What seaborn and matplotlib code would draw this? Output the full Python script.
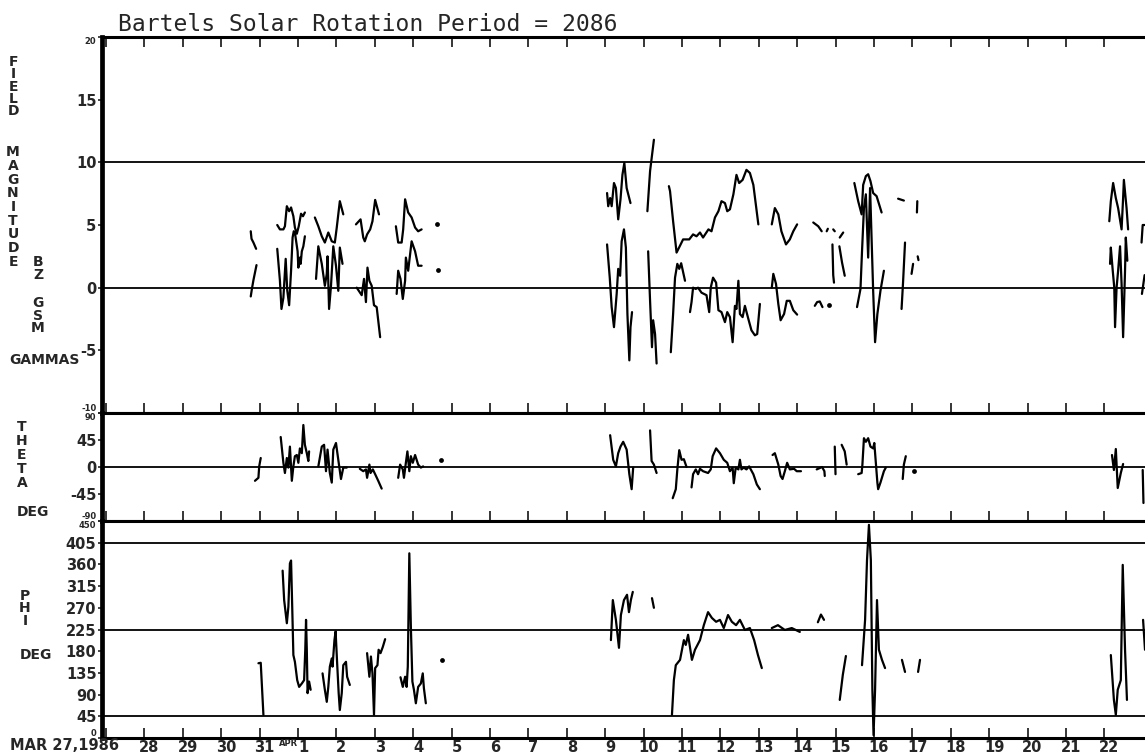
import numpy as np
import pandas as pd
import matplotlib
matplotlib.use("Agg")
import matplotlib.pyplot as plt
import matplotlib.transforms as mtransforms
import seaborn as sns

sns.set_style("white")
plt.rcParams['font.family'] = ['DejaVu Sans']

nan = np.nan

# ---------------- data (day since MAR 27 1986, value) ; nan separates gaps ----------------
bmag_day = [3.77, 3.79, 3.84, 3.91, nan,
            4.46, 4.53, 4.62, 4.66, 4.71, 4.77, 4.82, 4.88, 4.92, 4.97, 5.02, 5.08, 5.13, 5.18, nan,
            5.44, 5.53, 5.62, 5.70, 5.79, 5.88, 5.96, 6.01, 6.09, 6.18, nan,
            6.51, 6.63, 6.70, 6.74, 6.80, 6.88, 6.94, 7.01, 7.11, nan,
            7.55, 7.61, 7.70, 7.74, 7.79, 7.87, 7.96, 8.05, 8.13, 8.22, nan,
            13.05, 13.08, 13.13, 13.17, 13.23, 13.28, 13.34, 13.40, 13.45, 13.50, 13.56, 13.66, nan,
            14.10, 14.17, 14.27, nan,
            14.66, 14.69, 14.77, 14.86, 14.95, 15.03, 15.19, 15.29, 15.38, 15.47, 15.55, 15.69, 15.77,
            15.86, 15.95, 16.03, 16.12, 16.18, 16.25, 16.34, 16.42, 16.49, 16.58, 16.68, 16.77, 16.86, 16.99, nan,
            17.34, 17.42, 17.51, 17.59, 17.71, 17.81, 17.90, 18.00, nan,
            18.42, 18.55, 18.64, nan,
            18.77, 18.80, nan,
            18.94, 18.98, nan,
            19.11, 19.20, nan,
            19.49, 19.59, 19.68, 19.72, 19.79, 19.85, 19.91, 19.98, 20.07, 20.20, nan,
            20.63, 20.78, nan,
            21.12, 21.13, nan,
            26.13, 26.17, 26.23, 26.30, 26.36, 26.45, 26.49, 26.51, 26.58, 26.62, nan,
            26.97, 27.00, 27.05]
bmag_val = [4.5, 3.9, 3.6, 3.1, nan,
            5.0, 4.65, 4.65, 4.9, 6.5, 6.1, 6.4, 5.7, 4.8, 4.3, 4.9, 5.9, 5.7, 6.0, nan,
            5.6, 4.9, 4.1, 3.6, 4.4, 3.7, 3.6, 4.8, 6.9, 5.85, nan,
            5.05, 5.45, 4.0, 3.7, 4.25, 4.65, 5.3, 7.0, 5.85, nan,
            4.9, 3.6, 3.6, 4.65, 7.05, 6.0, 5.6, 4.8, 4.5, 4.65, nan,
            7.55, 6.5, 7.15, 6.5, 8.35, 7.95, 5.45, 7.05, 9.0, 9.95, 7.95, 6.75, nan,
            6.1, 9.3, 11.8, nan,
            8.1, 7.7, 5.3, 2.8, 3.35, 3.85, 3.85, 4.25, 4.1, 4.4, 4.0, 4.65, 4.5,
            5.6, 6.1, 6.9, 6.75, 6.1, 6.25, 7.45, 9.0, 8.35, 8.6, 9.4, 9.15, 8.2, 5.05, nan,
            5.05, 6.35, 5.85, 4.5, 3.45, 3.85, 4.5, 5.05, nan,
            5.2, 4.9, 4.5, nan,
            4.5, 4.7, nan,
            4.65, 4.5, nan,
            4.0, 4.4, nan,
            8.35, 6.9, 5.85, 8.2, 8.9, 9.05, 8.5, 7.55, 7.3, 6.0, nan,
            7.1, 6.95, nan,
            6.0, 6.9, nan,
            5.3, 6.9, 8.35, 7.15, 6.35, 4.65, 7.15, 8.6, 6.35, 4.65, nan,
            3.6, 5.0, 5.0]
bmag_dot_day = [8.63]
bmag_dot_val = [5.05]

bz_day = [3.77, 3.80, 3.84, 3.92, nan,
          4.46, 4.53, 4.57, 4.62, 4.68, 4.72, 4.77, 4.82, 4.86, 4.89, 4.92, 4.99, 5.01, 5.05, 5.07, 5.10, 5.14, 5.18, nan,
          5.47, 5.53, 5.62, 5.70, 5.75, 5.77, 5.81, 5.86, 5.92, 5.99, 6.05, 6.09, 6.16, nan,
          6.53, 6.66, 6.72, 6.77, 6.81, 6.86, 6.92, 6.98, 7.05, 7.14, nan,
          7.57, 7.61, 7.67, 7.73, 7.79, 7.81, 7.87, 7.96, 8.05, 8.13, 8.22, nan,
          13.05, 13.12, 13.17, 13.23, 13.30, 13.34, 13.39, 13.43, 13.49, 13.54, 13.58, 13.63, 13.66, 13.70, nan,
          14.12, 14.17, 14.22, 14.25, 14.30, 14.34, nan,
          14.71, 14.77, 14.82, 14.88, 14.93, 14.98, 15.08, nan,
          15.21, 15.25, 15.29, 15.36, 15.42, 15.51, 15.64, 15.71, 15.75, 15.81, 15.89, 15.95, 16.03, 16.12,
          16.18, 16.25, 16.32, 16.38, 16.42, 16.47, 16.51, 16.58, 16.64, 16.73, 16.81, 16.90, 16.96, 17.03, nan,
          17.34, 17.38, 17.45, 17.51, 17.57, 17.66, 17.73, 17.81, 17.90, 18.00, nan,
          18.46, 18.52, 18.59, 18.66, nan,
          18.92, 18.94, 18.96, nan,
          19.10, 19.17, 19.24, nan,
          19.56, 19.65, 19.69, 19.74, 19.79, 19.85, 19.90, 19.98, 20.03, 20.09, 20.17, 20.26, nan,
          20.72, 20.76, 20.81, nan,
          20.98, 21.02, nan,
          21.14, 21.16, nan,
          26.15, 26.17, 26.22, 26.26, 26.28, 26.32, 26.36, 26.41, 26.45, 26.49, 26.54, 26.56, 26.60, nan,
          26.98, 27.05]
bz_val = [-0.7, -0.1, 0.6, 1.8, nan,
          3.1, 0.55, -1.7, -0.8, 2.3, -0.2, -1.4, 1.35, 4.0, 4.5, 4.4, 2.9, 1.6, 2.4, 1.9, 2.9, 3.3, 4.1, nan,
          0.7, 3.3, 1.9, 0.15, 1.1, 2.5, -1.7, 0.15, 3.3, 1.75, -0.25, 3.2, 1.9, nan,
          0.0, -0.6, 0.7, -1.15, 1.6, 0.55, 0.15, -1.4, -1.55, -3.95, nan,
          -0.5, 1.35, 0.7, -0.9, 0.55, 2.4, 1.35, 3.7, 2.9, 1.75, 1.75, nan,
          3.45, 0.8, -1.55, -3.15, -0.5, 1.5, 0.95, 3.7, 4.65, 3.2, -2.1, -5.8, -3.15, -1.95, nan,
          2.9, -1.05, -4.75, -2.6, -3.7, -6.05, nan,
          -5.15, -2.1, 0.8, 1.9, 1.5, 1.95, 0.55, nan,
          -1.95, -1.15, 0.0, -0.1, 0.0, -0.4, -0.6, -1.95, 0.0, 0.8, 0.4, -1.8, -1.95, -2.75,
          -1.95, -2.35, -4.35, -1.45, -1.7, 0.55, -2.1, -2.35, -1.45, -2.5, -3.4, -3.8, -3.7, -1.3, nan,
          0.0, 1.1, 0.3, -1.3, -2.6, -2.1, -1.05, -1.05, -1.8, -2.15, nan,
          -1.45, -1.15, -1.1, -1.55, nan,
          3.45, 1.0, 0.4, nan,
          3.3, 2.0, 0.95, nan,
          -1.55, -0.1, 2.9, 6.35, 7.45, 2.4, 7.95, -0.25, -4.35, -2.1, -0.25, 1.35, nan,
          -1.7, 0.5, 3.6, nan,
          1.1, 1.9, nan,
          2.5, 2.2, nan,
          1.9, 3.2, 1.35, 0.0, -3.15, 0.0, 1.35, 3.3, 0.3, -3.95, 1.35, 4.0, 2.15, nan,
          -0.5, 1.0]
bz_dot_day = [8.65, 18.84]
bz_dot_val = [1.4, -1.4]

theta_day = [3.88, 3.97, 3.99, 4.03, nan,
             4.55, 4.62, 4.66, 4.71, 4.75, 4.79, 4.84, 4.88, 4.92, 4.97, 5.01, 5.05, 5.10, 5.14, 5.18, 5.23, 5.27, 5.29, nan,
             5.53, 5.62, 5.68, 5.73, 5.77, 5.83, 5.88, 5.92, 5.99, 6.05, 6.12, 6.18, 6.27, nan,
             6.61, 6.70, 6.77, 6.80, 6.86, 6.89, 6.95, 7.01, 7.09, 7.18, nan,
             7.61, 7.66, 7.73, 7.76, 7.81, 7.85, 7.90, 7.94, 7.99, 8.05, 8.13, 8.20, 8.26, nan,
             13.13, 13.21, 13.28, 13.34, 13.40, 13.47, 13.56, 13.63, 13.69, 13.73, nan,
             14.17, 14.21, 14.27, 14.34, nan,
             14.76, 14.84, 14.88, 14.93, 14.99, 15.05, 15.12, nan,
             15.25, 15.29, 15.36, 15.42, 15.47, 15.55, 15.68, 15.75, 15.80, 15.89, 15.99, 16.09, 16.18,
             16.25, 16.32, 16.35, 16.40, 16.47, 16.51, 16.55, 16.61, 16.68, 16.75, 16.86, 16.95, 17.03, nan,
             17.36, 17.42, 17.51, 17.57, 17.62, 17.68, 17.74, 17.81, 17.92, 17.99, 18.10, nan,
             18.51, 18.58, 18.65, 18.71, 18.72, nan,
             18.98, 19.00, nan,
             19.16, 19.24, 19.29, nan,
             19.59, 19.68, 19.70, 19.74, 19.79, 19.85, 19.91, 19.98, 20.01, 20.05, 20.09, 20.11, 20.17, 20.26, 20.31, nan,
             20.75, 20.78, 20.83, nan,
             26.20, 26.25, 26.30, 26.35, 26.43, 26.49, nan,
             27.00, 27.02]
theta_val = [-23, -18, 1, 15, nan,
             50, 7, -10, 15, -1, 34, -23, 1, 18, 20, 7, 31, 23, 70, 37, 23, 10, 26, nan,
             1, 34, 37, -7, 29, -10, -26, 29, 40, 12, -20, -1, -1, nan,
             -3, -7, -4, -18, 4, -10, -4, -12, -23, -36, nan,
             -18, 4, -4, -18, 7, 26, -7, 18, 7, 20, 4, -1, 1, nan,
             53, 12, 1, 23, 34, 42, 29, -12, -37, -1, nan,
             61, 10, 4, -10, nan,
             -52, -37, -4, 28, 12, 13, 0, nan,
             -34, -12, -4, -12, -3, -7, -10, -4, 18, 31, 23, 12, 7,
             -7, -1, -27, -1, -4, 12, -4, -1, -4, 1, -12, -29, -37, nan,
             20, 23, 4, -15, -20, -7, 7, -4, -3, -7, -7, nan,
             -4, -2, 0, -7, -15, nan,
             34, -12, nan,
             37, 26, 4, nan,
             -12, -10, 4, 48, 42, 48, 34, 31, 40, 7, -26, -37, -26, -7, -1, nan,
             -20, 4, 18, nan,
             20, -5, 30, -35, -10, 5, nan,
             -5, -60]
theta_dot_day = [8.72, 21.04]
theta_dot_val = [12, -7]

phi_day = [3.97, 4.03, 4.10, nan,
           4.60, 4.64, 4.71, 4.75, 4.79, 4.82, 4.85, 4.88, 4.92, 4.98, 5.03, 5.10, 5.16, 5.19, 5.21, 5.23, 5.25, 5.29, 5.33, nan,
           5.64, 5.70, 5.75, 5.79, 5.83, 5.88, 5.90, 5.95, 5.98, 6.02, 6.06, 6.09, 6.14, 6.18, 6.25, 6.28, 6.35, nan,
           6.80, 6.86, 6.90, 6.94, 6.98, 7.01, 7.07, 7.10, 7.15, 7.21, 7.27, nan,
           7.67, 7.73, 7.79, 7.83, 7.86, 7.90, 7.94, 7.98, 8.02, 8.07, 8.13, 8.20, 8.25, 8.28, 8.33, nan,
           13.15, 13.20, 13.28, 13.36, 13.41, 13.49, 13.57, 13.62, 13.67, 13.72, nan,
           14.22, 14.27, nan,
           14.74, 14.79, 14.84, 14.95, 15.05, 15.10, 15.16, 15.26, 15.34, 15.47, 15.57, 15.68, 15.78,
           15.89, 15.99, 16.09, 16.20, 16.30, 16.41, 16.51, 16.64, 16.77, 16.88, 16.98, 17.08, nan,
           17.34, 17.50, 17.68, 17.86, 18.07, nan,
           18.54, 18.62, 18.70, nan,
           19.11, 19.19, 19.27, nan,
           19.69, 19.77, 19.82, 19.87, 19.92, 19.96, 19.99, 20.03, 20.08, 20.13, 20.21, 20.29, nan,
           20.73, 20.81, nan,
           21.15, 21.20, nan,
           26.17, 26.25, 26.30, 26.35, 26.43, 26.48, 26.54, 26.59, nan,
           27.01, 27.06]
phi_val = [155, 156, 48, nan,
           347, 286, 238, 272, 362, 368, 272, 172, 158, 120, 106, 113, 120, 183, 245, 183, 93, 117, 100, nan,
           134, 100, 75, 106, 148, 165, 148, 203, 221, 155, 93, 58, 93, 151, 158, 127, 110, nan,
           176, 127, 169, 134, 48, 145, 151, 183, 176, 189, 205, nan,
           126, 106, 127, 106, 148, 383, 231, 117, 100, 72, 106, 113, 134, 103, 72, nan,
           203, 286, 245, 187, 255, 286, 297, 261, 286, 303, nan,
           290, 270, nan,
           48, 120, 151, 162, 203, 193, 214, 162, 183, 203, 234, 261, 249,
           241, 245, 228, 255, 241, 234, 245, 224, 228, 203, 172, 145, nan,
           228, 234, 224, 228, 220, nan,
           240, 256, 245, nan,
           79, 131, 170, nan,
           151, 245, 369, 442, 369, 100, 6, 100, 286, 183, 162, 145, nan,
           162, 137, nan,
           137, 162, nan,
           172, 79, 48, 100, 120, 359, 183, 79, nan,
           245, 183]
phi_dot_day = [8.76]
phi_dot_val = [162]

day_ticks = list(range(27))
day_labels = ["", "28", "29", "30", "31", "1", "2", "3", "4", "5", "6", "7", "8", "9", "10",
              "11", "12", "13", "14", "15", "16", "17", "18", "19", "20", "21", "22"]
bfield_ticks = [-10, -5, 0, 5, 10, 15, 20]
theta_ticks = [-90, -45, 0, 45, 90]
phi_ticks = [0, 45, 90, 135, 180, 225, 270, 315, 360, 405, 450]


def segments(day, val):
    day = np.asarray(day, float)
    val = np.asarray(val, float)
    seg = np.cumsum(np.isnan(day))
    df = pd.DataFrame({"day": day, "val": val, "seg": seg})
    return df.dropna()


W, H = 1145, 754
fig = plt.figure(figsize=(W / 100, H / 100), dpi=100)
fig.patch.set_facecolor("white")


def px_axes(x0, y0, x1, y1):
    return fig.add_axes([x0 / W, 1 - y1 / H, (x1 - x0) / W, (y1 - y0) / H])


ax1 = px_axes(102, 37, 1145, 413)
ax2 = px_axes(102, 413, 1145, 521)
ax3 = px_axes(102, 521, 1145, 738)

LW = 1.6
for ax, (d, v), dots in [
    (ax1, (bmag_day, bmag_val), (bmag_dot_day, bmag_dot_val)),
    (ax1, (bz_day, bz_val), (bz_dot_day, bz_dot_val)),
    (ax2, (theta_day, theta_val), (theta_dot_day, theta_dot_val)),
    (ax3, (phi_day, phi_val), (phi_dot_day, phi_dot_val)),
]:
    df = segments(d, v)
    sns.lineplot(data=df, x="day", y="val", units="seg", estimator=None, sort=False,
                 color="black", linewidth=LW, ax=ax, legend=False)
    sns.scatterplot(x=dots[0], y=dots[1], color="black", s=12, linewidth=0, ax=ax, legend=False)

xlim = (-0.104, 27.06)
ax1.set_ylim(-10, 20)
ax2.set_ylim(-90, 90)
ax3.set_ylim(0, 450)

for y in (10, 0):
    ax1.axhline(y, color="black", lw=1.3, zorder=1)
ax2.axhline(0, color="black", lw=1.3, zorder=1)
for y in (405, 225, 45):
    ax3.axhline(y, color="black", lw=1.3, zorder=1)

# small edge labels: (value, vertical alignment) so the stacked ones do not collide
for ax, yt, small in [(ax1, bfield_ticks, {-10: "bottom", 20: "top"}),
                      (ax2, theta_ticks, {-90: "bottom", 90: "top"}),
                      (ax3, phi_ticks, {0: "bottom", 450: "top"})]:
    ax.set_xlim(*xlim)
    ax.set_xlabel("")
    ax.set_ylabel("")
    ax.set_facecolor("white")
    ax.spines["right"].set_visible(False)
    ax.spines["left"].set_linewidth(3.4)
    ax.spines["top"].set_linewidth(2.2)
    ax.spines["bottom"].set_linewidth(2.2)
    for s in ax.spines.values():
        s.set_color("black")
    ax.set_xticks(day_ticks)
    ax.set_xticklabels(day_labels)
    ax.tick_params(axis="x", direction="in", length=7, width=1.3, bottom=True, top=False,
                   labelbottom=False, pad=1.5, labelsize=10.5)
    ax.set_yticks(yt)
    ax.set_yticklabels([str(t) for t in yt])
    ax.tick_params(axis="y", direction="out", length=3, width=1.2, pad=1, labelsize=10.5, left=True)
    for lab, t in zip(ax.get_yticklabels(), yt):
        lab.set_fontweight("bold")
        if t in small:
            lab.set_fontsize(6)
            lab.set_verticalalignment(small[t])

ax1.tick_params(axis="x", top=True)
ax3.tick_params(axis="x", labelbottom=True)
shift = mtransforms.ScaledTranslation(5 / 100, 0, fig.dpi_scale_trans)
for lab in ax3.get_xticklabels():
    lab.set_fontweight("bold")
    lab.set_transform(lab.get_transform() + shift)

# title
fig.text(118 / W, 1 - 31 / H, "Bartels Solar Rotation Period = 2086",
         family="DejaVu Sans Mono", fontsize=16.6, ha="left", va="baseline")

# date labels
fig.text(10 / W, 1 - 746 / H, "MAR 27,1986", fontsize=10.5, weight="bold", ha="left", va="center")
fig.text(298 / W, 1 - 744 / H, "APR", fontsize=6, weight="bold", ha="right", va="center")


def stack(text, x, y0, dy):
    for i, ch in enumerate(text):
        fig.text(x / W, 1 - (y0 + i * dy) / H, ch, ha="center", va="center",
                 fontsize=10, weight="bold")


def word(text, x, y):
    fig.text(x / W, 1 - y / H, text, ha="center", va="center", fontsize=10, weight="bold")


stack("FIELD", 13, 62, 12.3)
stack("MAGNITUDE", 13, 152, 13.75)
stack("BZ", 38, 262, 13)
stack("GSM", 38, 303, 12.5)
word("GAMMAS", 44, 360)
stack("THETA", 22, 427, 14)
word("DEG", 33, 512)
stack("PHI", 25, 596, 12.5)
word("DEG", 36, 655)

fig.savefig("out.png", dpi=100, facecolor="white")
